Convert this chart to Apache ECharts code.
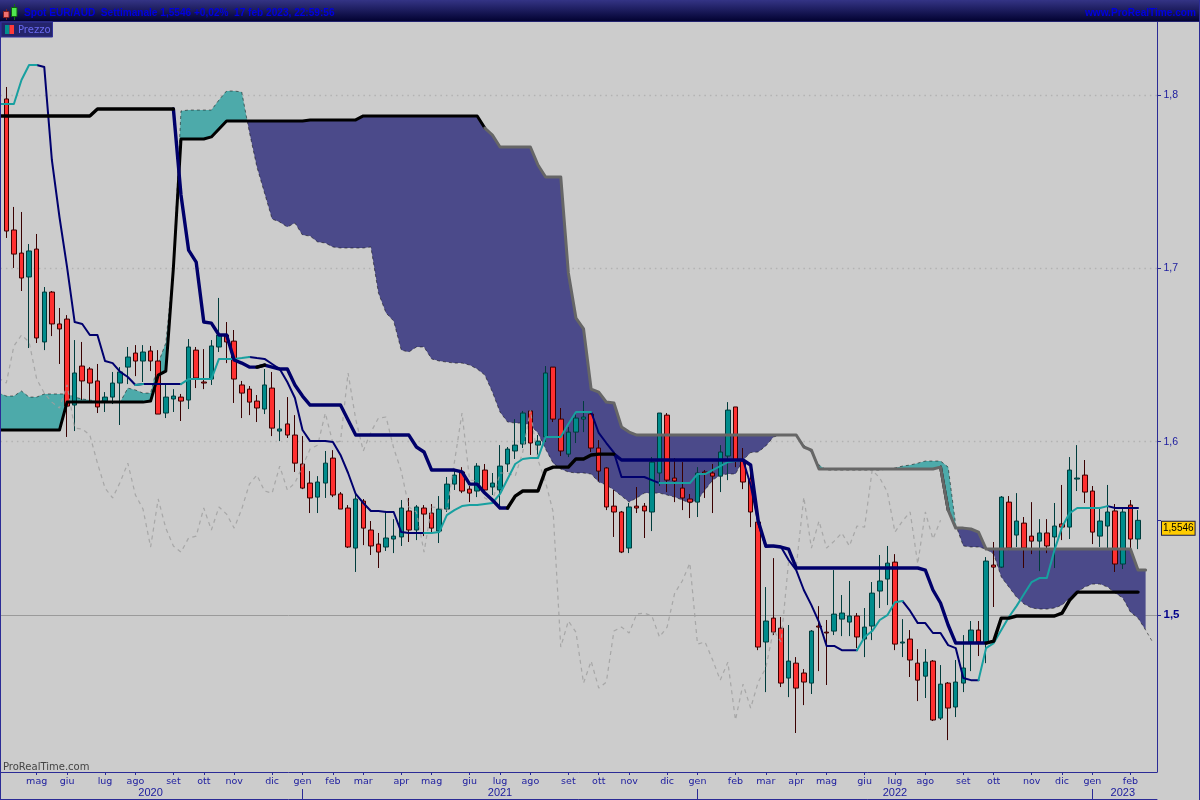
<!DOCTYPE html>
<html><head><meta charset="utf-8">
<style>html,body{margin:0;padding:0;background:#cccccc}#c{width:1200px;height:800px}</style>
<script src="https://cdn.jsdelivr.net/npm/echarts@6/dist/echarts.min.js"></script>
</head><body><div id="c"></div>
<script>
const opens=[1.7977,1.7221,1.7088,1.6950,1.7111,1.6575,1.6863,1.6679,1.6707,1.6211,1.6436,1.6419,1.6350,1.6234,1.6257,1.6338,1.6430,1.6511,1.6465,1.6523,1.6465,1.6165,1.6246,1.6257,1.6240,1.6528,1.6344,1.6361,1.6546,1.6615,1.6580,1.6327,1.6303,1.6234,1.6188,1.6309,1.6061,1.6102,1.6038,1.5871,1.5761,1.5680,1.5761,1.5905,1.5698,1.5617,1.5386,1.5657,1.5490,1.5409,1.5392,1.5438,1.5450,1.5600,1.5490,1.5617,1.5588,1.5484,1.5611,1.5755,1.5825,1.5726,1.5715,1.5836,1.5738,1.5721,1.5871,1.5946,1.5986,1.6177,1.5980,1.6027,1.6430,1.6130,1.5928,1.6055,1.6130,1.6159,1.5963,1.5848,1.5628,1.5594,1.5386,1.5628,1.5628,1.5594,1.5819,1.6153,1.5790,1.5732,1.5669,1.5651,1.5825,1.5819,1.5801,1.5917,1.6200,1.5888,1.5784,1.5536,1.4844,1.4982,1.4924,1.4636,1.4722,1.4665,1.4607,1.4936,1.4901,1.4907,1.4976,1.4959,1.4994,1.4861,1.4936,1.5138,1.5207,1.5305,1.4838,1.4861,1.4722,1.4647,1.4734,1.4405,1.4607,1.4469,1.4607,1.4844,1.4913,1.4838,1.5288,1.5276,1.5651,1.5461,1.5530,1.5455,1.5426,1.5473,1.5450,1.5525,1.5507,1.5784,1.5807,1.5715,1.5455,1.5513,1.5600,1.5294,1.5634,1.5438];
const closes=[1.7215,1.7082,1.6944,1.7100,1.6598,1.6863,1.6679,1.6650,1.6205,1.6396,1.6350,1.6338,1.6200,1.6257,1.6338,1.6402,1.6488,1.6465,1.6517,1.6465,1.6159,1.6257,1.6263,1.6234,1.6546,1.6367,1.6338,1.6552,1.6615,1.6575,1.6361,1.6280,1.6228,1.6194,1.6327,1.6078,1.6073,1.6038,1.5876,1.5732,1.5675,1.5767,1.5876,1.5692,1.5611,1.5392,1.5669,1.5501,1.5398,1.5363,1.5444,1.5455,1.5617,1.5490,1.5623,1.5582,1.5501,1.5611,1.5755,1.5807,1.5715,1.5703,1.5859,1.5721,1.5761,1.5859,1.5957,1.5980,1.6165,1.5992,1.6003,1.6396,1.6130,1.5946,1.6055,1.6136,1.6142,1.5963,1.5830,1.5623,1.5594,1.5363,1.5623,1.5617,1.5600,1.5882,1.6165,1.5778,1.5773,1.5675,1.5651,1.5819,1.5819,1.5801,1.5940,1.6182,1.5894,1.5767,1.5594,1.4815,1.4965,1.4901,1.4607,1.4734,1.4578,1.4613,1.4907,1.4930,1.4896,1.5005,1.5011,1.4994,1.4873,1.4930,1.5126,1.5196,1.5299,1.4832,1.4844,1.4740,1.4624,1.4728,1.4394,1.4601,1.4463,1.4613,1.4694,1.4913,1.4844,1.5311,1.5276,1.5680,1.5386,1.5542,1.5386,1.5426,1.5473,1.5398,1.5513,1.5507,1.5836,1.5790,1.5709,1.5478,1.5542,1.5594,1.5294,1.5594,1.5438,1.5546];
const highs=[1.8046,1.7354,1.7325,1.7140,1.7198,1.6892,1.6869,1.6771,1.6730,1.6586,1.6575,1.6430,1.6448,1.6286,1.6402,1.6430,1.6546,1.6557,1.6557,1.6552,1.6528,1.6327,1.6303,1.6275,1.6592,1.6546,1.6534,1.6586,1.6829,1.6690,1.6644,1.6350,1.6321,1.6269,1.6419,1.6402,1.6182,1.6257,1.6153,1.6032,1.5830,1.5801,1.5946,1.5951,1.5709,1.5634,1.5698,1.5669,1.5542,1.5473,1.5600,1.5553,1.5663,1.5675,1.5634,1.5634,1.5640,1.5686,1.5796,1.5836,1.5853,1.5744,1.5876,1.5871,1.5819,1.5980,1.5969,1.6130,1.6177,1.6182,1.6038,1.6436,1.6430,1.6194,1.6084,1.6171,1.6234,1.6165,1.6009,1.5853,1.5721,1.5600,1.5646,1.5738,1.5646,1.5911,1.6165,1.6165,1.5905,1.5882,1.5698,1.5853,1.5836,1.5871,1.5980,1.6228,1.6200,1.5963,1.5836,1.5576,1.5161,1.5328,1.4988,1.4942,1.4757,1.4688,1.4913,1.5051,1.4971,1.5259,1.5115,1.5196,1.5011,1.5040,1.5190,1.5346,1.5398,1.5351,1.4976,1.4913,1.4803,1.4803,1.4740,1.4711,1.4613,1.4740,1.4884,1.4965,1.4965,1.5334,1.5421,1.5686,1.5686,1.5703,1.5565,1.5651,1.5553,1.5553,1.5646,1.5750,1.5911,1.5980,1.5894,1.5744,1.5623,1.5750,1.5640,1.5617,1.5663,1.5605];
const lows=[1.7175,1.7002,1.6869,1.6540,1.6569,1.6528,1.6609,1.6448,1.6027,1.6061,1.6240,1.6223,1.6165,1.6171,1.6217,1.6096,1.6332,1.6378,1.6344,1.6407,1.6159,1.6136,1.6171,1.6119,1.6188,1.6309,1.6303,1.6327,1.6517,1.6453,1.6223,1.6136,1.6153,1.6113,1.6159,1.6032,1.6003,1.6021,1.5825,1.5726,1.5588,1.5588,1.5675,1.5680,1.5611,1.5386,1.5248,1.5403,1.5346,1.5271,1.5369,1.5357,1.5398,1.5421,1.5432,1.5455,1.5473,1.5415,1.5594,1.5721,1.5703,1.5651,1.5680,1.5709,1.5692,1.5623,1.5825,1.5900,1.5963,1.5923,1.5923,1.5998,1.6113,1.5917,1.5911,1.5992,1.6055,1.5940,1.5773,1.5605,1.5450,1.5357,1.5357,1.5588,1.5444,1.5484,1.5744,1.5709,1.5651,1.5605,1.5559,1.5565,1.5675,1.5588,1.5709,1.5778,1.5853,1.5726,1.5507,1.4797,1.4555,1.4884,1.4584,1.4526,1.4319,1.4480,1.4544,1.4676,1.4596,1.4884,1.4878,1.4878,1.4809,1.4757,1.4855,1.5040,1.5057,1.4797,1.4757,1.4642,1.4503,1.4521,1.4388,1.4394,1.4278,1.4411,1.4555,1.4676,1.4763,1.4722,1.5046,1.5271,1.5374,1.5392,1.5271,1.5351,1.5253,1.5357,1.5271,1.5432,1.5438,1.5715,1.5646,1.5409,1.5392,1.5386,1.5248,1.5265,1.5386,1.5380];
const tenkan=[1.7948,1.7948,1.7948,1.8086,1.8173,1.8173,1.8161,1.7625,1.7296,1.7007,1.6690,1.6679,1.6615,1.6615,1.6465,1.6453,1.6402,1.6373,1.6327,1.6332,1.6332,1.6332,1.6332,1.6332,1.6332,1.6361,1.6361,1.6361,1.6361,1.6477,1.6477,1.6477,1.6482,1.6488,1.6482,1.6477,1.6448,1.6419,1.6344,1.6252,1.6067,1.6003,1.6003,1.6003,1.5998,1.5923,1.5819,1.5698,1.5646,1.5600,1.5600,1.5594,1.5594,1.5478,1.5473,1.5473,1.5473,1.5473,1.5478,1.5576,1.5605,1.5628,1.5634,1.5634,1.5640,1.5646,1.5698,1.5784,1.5871,1.5900,1.5905,1.5905,1.6027,1.6027,1.6027,1.6102,1.6171,1.6171,1.6171,1.6050,1.5992,1.5937,1.5796,1.5796,1.5796,1.5796,1.5778,1.5761,1.5761,1.5761,1.5761,1.5761,1.5813,1.5813,1.5836,1.5859,1.5882,1.5888,1.5894,1.5750,1.5530,1.5392,1.5398,1.5392,1.5317,1.5259,1.5144,1.5057,1.4959,1.4821,1.4821,1.4797,1.4797,1.4797,1.4873,1.4907,1.4971,1.4999,1.5074,1.5080,1.5023,1.4953,1.4953,1.4896,1.4896,1.4826,1.4809,1.4636,1.4624,1.4624,1.4809,1.4838,1.4913,1.4988,1.5051,1.5121,1.5190,1.5213,1.5213,1.5374,1.5507,1.5588,1.5617,1.5617,1.5617,1.5617,1.5628,1.5617,1.5617,1.5617,1.5617,null,null];
const kijun=[1.7879,1.7879,1.7879,1.7879,1.7879,1.7879,1.7879,1.7879,1.7879,1.7879,1.7879,1.7879,1.7879,1.7919,1.7919,1.7919,1.7919,1.7919,1.7919,1.7919,1.7919,1.7919,1.7919,1.7919,1.7423,1.7105,1.7036,1.6690,1.6684,1.6615,1.6615,1.6471,1.6453,1.6430,1.6430,1.6442,1.6430,1.6419,1.6419,1.6327,1.6263,1.6211,1.6211,1.6211,1.6211,1.6211,1.6125,1.6038,1.6038,1.6038,1.6038,1.6038,1.6038,1.6038,1.6038,1.5969,1.5940,1.5836,1.5836,1.5836,1.5836,1.5825,1.5755,1.5755,1.5703,1.5663,1.5617,1.5617,1.5686,1.5715,1.5715,1.5715,1.5836,1.5853,1.5853,1.5853,1.5900,1.5900,1.5923,1.5928,1.5928,1.5928,1.5894,1.5894,1.5894,1.5894,1.5894,1.5894,1.5894,1.5894,1.5894,1.5894,1.5894,1.5894,1.5894,1.5894,1.5894,1.5894,1.5894,1.5865,1.5542,1.5398,1.5398,1.5392,1.5380,1.5271,1.5271,1.5271,1.5271,1.5271,1.5271,1.5271,1.5271,1.5271,1.5271,1.5271,1.5271,1.5271,1.5271,1.5271,1.5271,1.5271,1.5259,1.5144,1.5069,1.4942,1.4838,1.4838,1.4838,1.4838,1.4838,1.4849,1.4982,1.4982,1.4994,1.4994,1.4994,1.4994,1.4994,1.4994,1.5011,1.5086,1.5132,1.5132,1.5132,1.5132,1.5132,1.5132,1.5132,1.5132,1.5132,null,null];
const senkouA=[1.6280,1.6263,1.6263,1.6292,1.6257,1.6257,1.6275,1.6275,1.6275,1.6275,1.6257,1.6246,1.6240,1.6234,1.6234,1.6228,1.6228,1.6309,1.6298,1.6280,1.6280,1.6453,1.6569,1.7007,1.7908,1.7913,1.7913,1.7913,1.7913,1.7971,1.8023,1.8023,1.8017,1.7786,1.7584,1.7434,1.7284,1.7267,1.7238,1.7261,1.7192,1.7186,1.7152,1.7146,1.7123,1.7117,1.7117,1.7117,1.7117,1.7123,1.6857,1.6742,1.6696,1.6528,1.6517,1.6546,1.6546,1.6477,1.6465,1.6459,1.6453,1.6453,1.6442,1.6419,1.6384,1.6286,1.6171,1.6113,1.6107,1.6107,1.6096,1.6050,1.5957,1.5876,1.5842,1.5825,1.5819,1.5819,1.5813,1.5767,1.5750,1.5721,1.5686,1.5651,1.5675,1.5703,1.5703,1.5703,1.5692,1.5680,1.5663,1.5646,1.5663,1.5721,1.5778,1.5807,1.5813,1.5813,1.5894,1.5937,1.5940,1.5975,1.6027,1.6038,1.6038,1.6038,1.5980,1.5937,1.5865,1.5836,1.5836,1.5836,1.5836,1.5836,1.5836,1.5836,1.5836,1.5842,1.5848,1.5859,1.5865,1.5876,1.5888,1.5888,1.5888,1.5853,1.5519,1.5398,1.5392,1.5392,1.5380,1.5351,1.5219,1.5161,1.5103,1.5063,1.5040,1.5034,1.5034,1.5040,1.5057,1.5098,1.5132,1.5161,1.5178,1.5178,1.5161,1.5126,1.5098,1.5017,1.4982,1.4913,1.4838];
const senkouB=[1.6067,1.6067,1.6067,1.6067,1.6067,1.6067,1.6067,1.6067,1.6067,1.6228,1.6228,1.6228,1.6228,1.6228,1.6228,1.6228,1.6228,1.6228,1.6228,1.6228,1.6234,1.6384,1.6407,1.7002,1.7746,1.7746,1.7746,1.7746,1.7758,1.7804,1.7850,1.7850,1.7850,1.7850,1.7850,1.7850,1.7850,1.7850,1.7850,1.7850,1.7850,1.7856,1.7856,1.7856,1.7856,1.7856,1.7856,1.7856,1.7879,1.7879,1.7879,1.7879,1.7879,1.7879,1.7879,1.7879,1.7879,1.7879,1.7879,1.7879,1.7879,1.7879,1.7879,1.7879,1.7809,1.7769,1.7700,1.7700,1.7700,1.7700,1.7700,1.7596,1.7527,1.7527,1.7527,1.6973,1.6713,1.6650,1.6303,1.6286,1.6228,1.6223,1.6084,1.6055,1.6038,1.6038,1.6038,1.6038,1.6038,1.6038,1.6038,1.6038,1.6038,1.6038,1.6038,1.6038,1.6038,1.6038,1.6038,1.6038,1.6038,1.6038,1.6038,1.6038,1.6038,1.6038,1.5969,1.5951,1.5842,1.5842,1.5842,1.5842,1.5842,1.5842,1.5842,1.5842,1.5842,1.5842,1.5842,1.5842,1.5842,1.5842,1.5842,1.5842,1.5853,1.5605,1.5501,1.5501,1.5496,1.5478,1.5380,1.5380,1.5380,1.5380,1.5380,1.5380,1.5380,1.5380,1.5380,1.5380,1.5380,1.5380,1.5380,1.5380,1.5380,1.5380,1.5380,1.5380,1.5380,1.5380,1.5259,1.5259];
const chikou=[1.6367,1.6338,1.6552,1.6615,1.6575,1.6361,1.6280,1.6228,1.6194,1.6327,1.6078,1.6073,1.6038,1.5876,1.5732,1.5675,1.5767,1.5876,1.5692,1.5611,1.5392,1.5669,1.5501,1.5398,1.5363,1.5444,1.5455,1.5617,1.5490,1.5623,1.5582,1.5501,1.5611,1.5755,1.5807,1.5715,1.5703,1.5859,1.5721,1.5761,1.5859,1.5957,1.5980,1.6165,1.5992,1.6003,1.6396,1.6130,1.5946,1.6055,1.6136,1.6142,1.5963,1.5830,1.5623,1.5594,1.5363,1.5623,1.5617,1.5600,1.5882,1.6165,1.5778,1.5773,1.5675,1.5651,1.5819,1.5819,1.5801,1.5940,1.6182,1.5894,1.5767,1.5594,1.4815,1.4965,1.4901,1.4607,1.4734,1.4578,1.4613,1.4907,1.4930,1.4896,1.5005,1.5011,1.4994,1.4873,1.4930,1.5126,1.5196,1.5299,1.4832,1.4844,1.4740,1.4624,1.4728,1.4394,1.4601,1.4463,1.4613,1.4694,1.4913,1.4844,1.5311,1.5276,1.5680,1.5386,1.5542,1.5386,1.5426,1.5473,1.5398,1.5513,1.5507,1.5836,1.5790,1.5709,1.5478,1.5542,1.5594,1.5294,1.5594,1.5438,1.5546];
const monthTicks={4:'mag',8:'giu',13:'lug',17:'ago',22:'set',26:'ott',30:'nov',35:'dic',39:'gen',43:'feb',47:'mar',52:'apr',56:'mag',61:'giu',65:'lug',69:'ago',74:'set',78:'ott',82:'nov',87:'dic',91:'gen',96:'feb',100:'mar',104:'apr',108:'mag',113:'giu',117:'lug',121:'ago',126:'set',130:'ott',135:'nov',139:'dic',143:'gen',148:'feb'};
const yearLabels={19:'2020',65:'2021',117:'2022',147:'2023'};
const yearBreaks=[39,91,143];
const yTicks=[1.5,1.6,1.7,1.8];
const lastPrice=1.5546;

// colour runs, as bar numbers
const kijunBlackRuns=[[-1,22],[33,34],[66,80],[129,149]];
const kijunNavyRuns=[[22,33],[34,66],[80,129]];
const tenkanTealRuns=[[-1,4],[17,18],[23,32],[55,77],[86,97],[112,118],[128,145]];
const tenkanNavyRuns=[[4,17],[18,23],[32,55],[77,86],[97,112],[118,128],[145,149]];
const spanBBlackRuns=[[-1,63],[123,124]];
const spanBGreyRuns=[[63,123],[124,151]];

const N=153; // one bar before the first candle, 150 candles, two bars ahead
const cats=[],yearCats=[];
for(let k=0;k<N;k++){cats.push(monthTicks[k-1]||'');yearCats.push(yearLabels[k-1]||'');}
const candleData=[['-','-','-','-']];
for(let i=0;i<opens.length;i++)candleData.push([opens[i],closes[i],lows[i],highs[i]]);
while(candleData.length<N)candleData.push(['-','-','-','-']);
const runs=(arr,rs)=>arr.map((v,k)=>rs.some(r=>k-1>=r[0]&&k-1<=r[1])?v:null);
const chikouFull=chikou.concat(new Array(N-chikou.length).fill(null));

// cloud regions between the two spans
const regions=[];let cur=null;
for(let k=0;k<N;k++){
  const s=Math.sign(senkouA[k]-senkouB[k]);
  if(s===0){if(cur)cur.to=k;continue;}
  if(!cur){cur={s,from:k,to:k,startCross:false,endCross:false};}
  else if(s!==cur.s){cur.endCross=true;regions.push(cur);cur={s,from:k,to:k,startCross:true,endCross:false};}
  else cur.to=k;
}
if(cur)regions.push(cur);
function crossing(api,k){ // span crossing between bars k and k+1
  const d0=senkouA[k]-senkouB[k],d1=senkouA[k+1]-senkouB[k+1];
  const t=(d0-d1)===0?0:d0/(d0-d1);
  const p=api.coord([k,senkouA[k]]),q=api.coord([k+1,senkouA[k+1]]);
  return [p[0]+(q[0]-p[0])*t,p[1]+(q[1]-p[1])*t];
}
function renderCloud(params,api){
  const r=regions[params.dataIndex],pts=[];
  if(r.startCross)pts.push(crossing(api,r.from-1));
  for(let k=r.from;k<=r.to;k++)pts.push(api.coord([k,senkouA[k]]));
  if(r.endCross)pts.push(crossing(api,r.to));
  for(let k=r.to;k>=r.from;k--)pts.push(api.coord([k,senkouB[k]]));
  return {type:'polygon',shape:{points:pts},style:{fill:r.s>0?'#4daaaa':'#4b4a8a'},silent:true};
}
const axisBlue='#2b2b96',labelBlue='#1a1a9e';
const sans='"Liberation Sans",sans-serif';
const lineS=(name,data,color,width,z,extra)=>Object.assign({name,type:'line',data,showSymbol:false,symbol:'none',smooth:false,z,silent:true,animation:false,lineStyle:{color,width,join:'round',cap:'round'}},extra||{});
const grid=(v,solid)=>({yAxis:v,lineStyle:solid?{color:'#9a9a9a',width:1,type:'solid'}:{color:'#b2b2b2',width:1.4,type:[1.5,4]}});

const option={
  animation:false,
  backgroundColor:'#cccccc',
  textStyle:{fontFamily:sans},
  grid:{left:-5.1,right:43,top:22,bottom:28,containLabel:false,outerBoundsMode:'none'},
  xAxis:[
    {type:'category',data:cats,boundaryGap:true,position:'bottom',
     axisLine:{show:true,lineStyle:{color:axisBlue,width:1}},
     axisTick:{show:true,alignWithLabel:true,length:3,lineStyle:{color:axisBlue},interval:(i)=>!!cats[i]},
     axisLabel:{show:true,interval:(i)=>!!cats[i],margin:5,color:labelBlue,fontSize:9.5,hideOverlap:false,fontFamily:'"DejaVu Sans",sans-serif'},
     splitLine:{show:false}},
    {type:'category',data:yearCats,boundaryGap:true,position:'bottom',offset:27,
     axisLine:{show:true,lineStyle:{color:axisBlue,width:1}},
     axisTick:{show:true,alignWithLabel:true,inside:true,length:10,lineStyle:{color:axisBlue},interval:(i)=>yearBreaks.includes(i-1)},
     axisLabel:{show:true,inside:true,interval:(i)=>!!yearCats[i],margin:1,color:labelBlue,fontSize:11,hideOverlap:false,fontFamily:sans},
     splitLine:{show:false}}
  ],
  yAxis:{type:'value',position:'right',min:1.4094,max:1.8421,scale:true,
    axisLine:{show:true,onZero:false,lineStyle:{color:axisBlue,width:1}},
    axisTick:{show:true,length:4,lineStyle:{color:axisBlue},customValues:yTicks.concat([lastPrice])},
    axisLabel:{show:true,customValues:yTicks,margin:6.5,
      formatter:(v)=>{const s=String(v).replace('.',',');return Number(v)===1.5?'{b|'+s+'}':'{a|'+s+'}';},
      rich:{a:{color:labelBlue,fontSize:10.5,fontFamily:sans},b:{color:'#00008b',fontSize:11.5,fontWeight:'bold',fontFamily:sans}}},
    splitLine:{show:false}},
  series:[
    lineS('griglia',new Array(N).fill(null),'#999',1,0,{
      markLine:{silent:true,symbol:'none',animation:false,z:0,label:{show:false},
        data:[grid(1.5,true),grid(1.6),grid(1.7),grid(1.8)]}}),
    {name:'Kumo',type:'custom',renderItem:renderCloud,data:regions.map((r,i)=>[r.from,i]),clip:true,z:1,silent:true,animation:false},
    lineS('Senkou A',senkouA,'rgba(0,0,0,0.5)',1,2,{lineStyle:{color:'rgba(0,0,0,0.5)',width:1,type:[3,3]}}),
    {name:'Prezzo',type:'candlestick',data:candleData,barWidth:5,z:3,silent:true,animation:false,
     itemStyle:{color:'#008c8c',color0:'#ff3030',borderColor:'#003c3c',borderColor0:'#3a0000',borderWidth:1}},
    lineS('Chikou',chikouFull,'#a6a6a6',1,4,{lineStyle:{color:'rgba(160,160,160,0.85)',width:1.2,type:[4,4]}}),
    lineS('Senkou B',runs(senkouB,spanBBlackRuns),'#000000',3,5),
    lineS('Senkou B ',runs(senkouB,spanBGreyRuns),'#666666',3,5),
    lineS('Tenkan',runs(tenkan,tenkanNavyRuns),'#00006e',2,6),
    lineS('Tenkan ',runs(tenkan,tenkanTealRuns),'#18a0a0',2,6),
    lineS('Kijun',runs(kijun,kijunNavyRuns),'#00006a',3.4,7),
    lineS('Kijun ',runs(kijun,kijunBlackRuns),'#000000',3.4,7),
    lineS('ultimo',new Array(N).fill(null),'#000',1,20,{
      markLine:{silent:true,symbol:'none',animation:false,z:20,lineStyle:{color:'rgba(0,0,0,0)',width:1},
        label:{show:true,position:'end',distance:5,formatter:'1,5546',color:'#000',fontSize:10,backgroundColor:'#ffcc00',borderColor:'#1a1a40',borderWidth:1,padding:[2,1,1,1],opacity:1,fontFamily:sans},
        data:[{yAxis:lastPrice}]}})
  ],
  graphic:[
    {type:'rect',z:50,silent:true,shape:{x:0,y:0,width:1200,height:22},style:{fill:new echarts.graphic.LinearGradient(0,0,0,1,[{offset:0,color:'#343485'},{offset:1,color:'#00002e'}])}},
    {type:'rect',z:51,silent:true,shape:{x:0,y:21,width:1200,height:1},style:{fill:'#22226e'}},
    {type:'rect',z:51,silent:true,shape:{x:0,y:22,width:1,height:778},style:{fill:axisBlue}},
    {type:'rect',z:51,silent:true,shape:{x:1199,y:0,width:1,height:800},style:{fill:axisBlue}},
    {type:'rect',z:52,silent:true,shape:{x:6,y:9,width:1,height:11},style:{fill:'#7a2020'}},
    {type:'rect',z:52,silent:true,shape:{x:3.5,y:11.5,width:5.5,height:6},style:{fill:'#f07070',stroke:'#802020',lineWidth:1}},
    {type:'rect',z:52,silent:true,shape:{x:14,y:4,width:1,height:16},style:{fill:'#107010'}},
    {type:'rect',z:52,silent:true,shape:{x:11.5,y:7.5,width:5.5,height:9},style:{fill:'#50e850',stroke:'#106010',lineWidth:1}},
    {type:'text',z:52,silent:true,x:24,y:13,style:{text:'Spot EUR/AUD  Settimanale 1,5546 +0,02%  17 feb 2023, 22:59:56',fill:'#0000e0',font:'bold 10.1px "Liberation Sans",sans-serif',verticalAlign:'middle',align:'left'}},
    {type:'text',z:52,silent:true,x:1196,y:13,style:{text:'www.ProRealTime.com',fill:'#0000e0',font:'bold 10.1px "Liberation Sans",sans-serif',verticalAlign:'middle',align:'right'}},
    {type:'rect',z:52,silent:true,shape:{x:1,y:22,width:51.5,height:15},style:{fill:'#24246c',stroke:'#333399',lineWidth:1}},
    {type:'rect',z:53,silent:true,shape:{x:5,y:25,width:4.5,height:9},style:{fill:'#009090'}},
    {type:'rect',z:53,silent:true,shape:{x:9.5,y:25,width:4.5,height:9},style:{fill:'#ff3a3a'}},
    {type:'text',z:53,silent:true,x:18,y:30,style:{text:'Prezzo',fill:'#6a6af0',font:'10px "DejaVu Sans",sans-serif',verticalAlign:'middle',align:'left'}},
    {type:'text',z:52,silent:true,x:3,y:767,style:{text:'ProRealTime.com',fill:'#444444',font:'10px "DejaVu Sans",sans-serif',verticalAlign:'middle',align:'left'}}
  ]
};
echarts.init(document.getElementById('c'),null,{renderer:'canvas'}).setOption(option);
</script></body></html>
